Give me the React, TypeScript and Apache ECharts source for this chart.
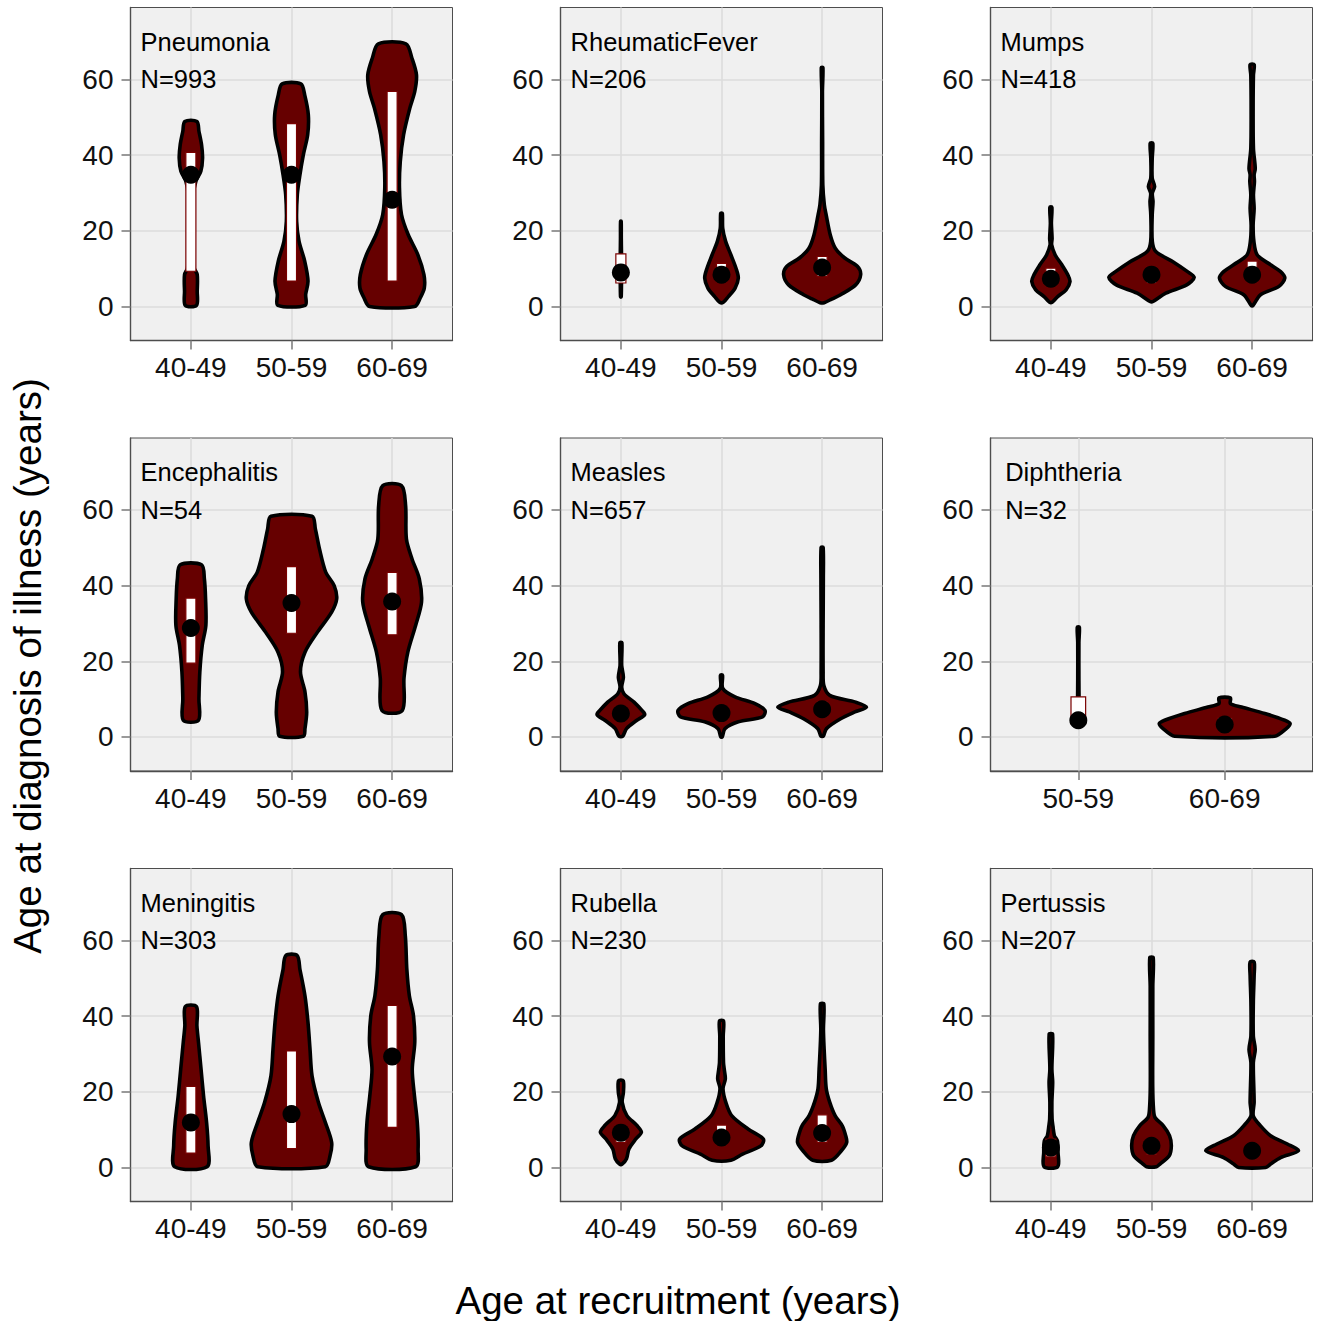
import React, { useEffect, useRef } from 'react';
import * as echarts from 'echarts';

const FONT = '"Liberation Sans", Arial, Helvetica, sans-serif';

// ---------- categories / labels ----------
const AGE_GROUPS = ['40-49', '50-59', '60-69'];
const DIPH_GROUPS = ['50-59', '60-69'];
const Y_TICKS = [0, 20, 40, 60];
const Y_MIN = -9;
const Y_MAX = 79;
const DISEASES = ['Pneumonia', 'RheumaticFever', 'Mumps', 'Encephalitis', 'Measles', 'Diphtheria', 'Meningitis', 'Rubella', 'Pertussis'];
const COUNTS = [993, 206, 418, 54, 657, 32, 303, 230, 207];
const LABEL_X = 0.5;
const NAME_Y = 70;
const COUNT_Y = 60;
const X_TITLE = 'Age at recruitment (years)';
const Y_TITLE = 'Age at diagnosis of illness (years)';

// ---------- violin profiles: [age at diagnosis, half width (x units)] ----------
const pneu40 = [[0.3, 0.056], [4.0, 0.063], [8.4, 0.063], [10.2, 0.033], [17.2, 0.023], [29.6, 0.027], [33.1, 0.05], [35.7, 0.099], [39.2, 0.116], [42.7, 0.106], [46.3, 0.08], [48.9, 0.06]];
const pneu50 = [[0.3, 0.136], [3.2, 0.141], [6.7, 0.164], [12.0, 0.131], [17.2, 0.075], [22.5, 0.051], [29.6, 0.058], [34.8, 0.084], [40.1, 0.118], [45.4, 0.161], [50.7, 0.167], [55.9, 0.131], [58.8, 0.093]];
const pneu60 = [[0.0, 0.224], [2.3, 0.28], [4.9, 0.32], [8.4, 0.316], [13.7, 0.255], [19.0, 0.159], [24.3, 0.093], [31.3, 0.073], [38.3, 0.081], [45.4, 0.114], [52.4, 0.176], [56.8, 0.225], [61.2, 0.242], [65.6, 0.197], [69.4, 0.137]];

const rf40 = [[2.5, 0.003], [6, 0.006], [10, 0.01], [14, 0.006], [18, 0.004], [22.5, 0.003]];
const rf50 = [[1.1, 0.018], [2.6, 0.068], [4.8, 0.134], [7.5, 0.167], [10.1, 0.144], [13.6, 0.094], [17.2, 0.041], [20.7, 0.012], [24.6, 0.008]];
const rf60 = [[1.0, 0.02], [2.0, 0.1], [3.1, 0.184], [5.7, 0.333], [8.4, 0.383], [10.6, 0.35], [12.8, 0.225], [15.4, 0.131], [18.9, 0.081], [24.2, 0.04], [26.8, 0.022], [32.1, 0.007], [43.5, 0.005], [56.7, 0.003], [63.1, 0.008]];

const mu40 = [[1.1, 0.012], [2.6, 0.068], [4.4, 0.151], [6.6, 0.19], [8.4, 0.167], [11.0, 0.109], [13.6, 0.043], [16.3, 0.008], [18.0, 0.012], [22, 0.005], [26.2, 0.01]];
const mu50 = [[1.3, 0.015], [3.5, 0.142], [5.7, 0.35], [7.7, 0.424], [9.2, 0.358], [11.9, 0.209], [14.5, 0.043], [17.2, 0.008], [24.2, 0.007], [27.7, 0.015], [29.9, 0.008], [31.7, 0.031], [33.9, 0.007], [39.1, 0.007], [43.1, 0.013]];
const mu60 = [[0.2, 0.008], [3.1, 0.084], [5.3, 0.267], [7.5, 0.325], [9.2, 0.283], [11.0, 0.184], [13.6, 0.051], [17.1, 0.018], [21.5, 0.01], [25.9, 0.02], [29.5, 0.013], [33.0, 0.023], [34.8, 0.02], [36.5, 0.031], [41.8, 0.013], [52.4, 0.01], [61.1, 0.013], [63.9, 0.02]];

const en40 = [[4.4, 0.076], [10.1, 0.08], [17.2, 0.089], [24.2, 0.113], [29.5, 0.149], [36.5, 0.146], [41.8, 0.134], [45.5, 0.106]];
const en50 = [[0.2, 0.118], [2.2, 0.134], [6.6, 0.151], [11.9, 0.134], [17.2, 0.089], [22.4, 0.134], [27.7, 0.258], [33.0, 0.399], [36.5, 0.449], [40.0, 0.424], [43.5, 0.341], [49.7, 0.278], [55.0, 0.237], [58.3, 0.204]];
const en60 = [[7.0, 0.101], [15.6, 0.118], [22.4, 0.156], [29.5, 0.234], [35.6, 0.292], [41.8, 0.27], [47.1, 0.197], [52.3, 0.142], [61.1, 0.134], [66.4, 0.093]];

const me40 = [[0.2, 0.018], [2.2, 0.056], [4.4, 0.159], [5.9, 0.237], [7.0, 0.209], [9.2, 0.131], [11.4, 0.031], [13.2, 0.008], [15.8, 0.025], [18.9, 0.008], [24.9, 0.01]];
const me50 = [[0, 0.007], [2.2, 0.035], [4.0, 0.167], [5.3, 0.408], [7.0, 0.432], [8.8, 0.333], [10.6, 0.134], [12.8, 0.013], [16.3, 0.01]];
const me60 = [[0.2, 0.012], [2.2, 0.043], [4.8, 0.184], [6.6, 0.325], [7.9, 0.441], [9.2, 0.333], [11.0, 0.076], [13.6, 0.017], [17.2, 0.01], [30.3, 0.01], [41.8, 0.012], [50.1, 0.01]];

const di50 = [[3.0, 0.005], [5, 0.006], [10, 0.005], [15, 0.004], [25, 0.004], [29.0, 0.007]];
const di60 = [[0.2, 0.342], [2.2, 0.421], [3.5, 0.447], [4.4, 0.41], [6.2, 0.274], [7.9, 0.115], [8.8, 0.039], [10.3, 0.039]];

const mn40 = [[0.2, 0.161], [5.7, 0.171], [11.9, 0.156], [18.9, 0.126], [26.0, 0.101], [33.0, 0.076], [37.4, 0.06], [42.5, 0.056]];
const mn50 = [[0.2, 0.336], [3.1, 0.383], [6.6, 0.399], [11.9, 0.336], [17.2, 0.267], [24.2, 0.204], [31.2, 0.184], [38.3, 0.164], [45.3, 0.134], [52.3, 0.084], [56.0, 0.056]];
const mn60 = [[0.2, 0.234], [4.8, 0.258], [11.9, 0.25], [18.9, 0.222], [25.9, 0.2], [33.1, 0.225], [40.1, 0.212], [45.4, 0.171], [52.4, 0.146], [61.2, 0.131], [66.8, 0.093]];

const ru40 = [[0.9, 0.013], [2.3, 0.056], [4.9, 0.08], [7.6, 0.151], [9.3, 0.204], [11.1, 0.159], [13.7, 0.06], [17.2, 0.013], [19.8, 0.025], [22.9, 0.023]];
const ru50 = [[1.9, 0.093], [3.5, 0.209], [5.7, 0.391], [7.5, 0.416], [10.1, 0.267], [13.7, 0.101], [17.2, 0.043], [20.8, 0.015], [23.4, 0.038], [26.0, 0.027], [27.7, 0.02], [34.7, 0.017], [38.7, 0.02]];
const ru60 = [[1.9, 0.093], [4.4, 0.191], [6.6, 0.244], [8.4, 0.234], [11.0, 0.2], [13.7, 0.129], [17.2, 0.076], [20.8, 0.041], [26.0, 0.03], [31.2, 0.02], [36.5, 0.013], [43.2, 0.017]];

const pe40 = [[0.2, 0.068], [4.0, 0.071], [7.0, 0.065], [8.4, 0.035], [11.0, 0.02], [12.8, 0.012], [17.2, 0.01], [22.5, 0.018], [26.0, 0.01], [35.2, 0.017]];
const pe50 = [[0.2, 0.051], [0.9, 0.084], [3.1, 0.176], [5.7, 0.197], [8.4, 0.179], [11.0, 0.118], [13.2, 0.035], [15.4, 0.02], [21.5, 0.012], [34.7, 0.013], [47.9, 0.013], [55.4, 0.017]];
const pe60 = [[0, 0.134], [0.9, 0.184], [2.6, 0.283], [4.4, 0.46], [6.2, 0.35], [8.4, 0.184], [11.0, 0.084], [13.6, 0.012], [17.2, 0.02], [27.7, 0.012], [31.2, 0.031], [34.7, 0.012], [43.6, 0.012], [50.7, 0.02], [54.3, 0.02]];

// ---------- boxes: [q1, median, q3] ----------
const pneumoniaBox = [[9.3, 34.8, 40.7], [6.7, 34.8, 48.3], [6.7, 28.2, 56.8]];
const rheumaticBox = [[6.2, 9.0, 13.9], [6.5, 8.4, 11.4], [7.9, 10.3, 13.2]];
const mumpsBox = [[5.5, 7.3, 10.1], [6.2, 8.4, 10.4], [6.5, 8.4, 12.0]];
const encephalitisBox = [[19.5, 28.8, 36.7], [27.4, 35.4, 45.0], [27.0, 35.8, 43.5]];
const measlesBox = [[4.5, 6.2, 8.0], [4.8, 6.3, 8.2], [5.5, 7.3, 9.3]];
const diphtheriaBox = [[3.5, 4.4, 10.6], [2.0, 3.3, 5.0]];
const meningitisBox = [[3.8, 11.9, 21.4], [5.0, 14.1, 30.8], [10.6, 29.3, 42.8]];
const rubellaBox = [[6.6, 9.2, 11.0], [6.0, 7.9, 11.2], [6.6, 9.1, 13.9]];
const pertussisBox = [[2.8, 5.3, 7.5], [3.5, 5.7, 7.5], [3.0, 4.4, 6.0]];

const PANEL_VIOLINS = [
  [pneu40, pneu50, pneu60], [rf40, rf50, rf60], [mu40, mu50, mu60],
  [en40, en50, en60], [me40, me50, me60], [di50, di60],
  [mn40, mn50, mn60], [ru40, ru50, ru60], [pe40, pe50, pe60],
];
const PANEL_BOXES = [pneumoniaBox, rheumaticBox, mumpsBox, encephalitisBox, measlesBox, diphtheriaBox, meningitisBox, rubellaBox, pertussisBox];
const PANEL_GROUPS = [AGE_GROUPS, AGE_GROUPS, AGE_GROUPS, AGE_GROUPS, AGE_GROUPS, DIPH_GROUPS, AGE_GROUPS, AGE_GROUPS, AGE_GROUPS];

// ---------- layout ----------
const GRID_LEFTS = [130.5, 560.5, 990.5];
const GRID_TOPS = [7.5, 438, 868.5];
const GRID_W = 322;
const GRID_H = 333;
const BOX_HALF = 0.05;

function buildOption() {
  const grid: any[] = [];
  const xAxis: any[] = [];
  const yAxis: any[] = [];
  const series: any[] = [];

  PANEL_VIOLINS.forEach((violins, i) => {
    const row = Math.floor(i / 3);
    const col = i % 3;
    const groups = PANEL_GROUPS[i];
    const positions = groups.map((_, j) => j + 1);
    const boxes = PANEL_BOXES[i];

    grid.push({
      left: GRID_LEFTS[col], top: GRID_TOPS[row], width: GRID_W, height: GRID_H,
      show: true, backgroundColor: '#f0f0f0', borderColor: '#4d4d4d', borderWidth: 1,
      containLabel: false,
    });
    xAxis.push({
      gridIndex: i, type: 'value', min: 0.4, max: groups.length + 0.6,
      axisLine: { show: true, onZero: false, lineStyle: { color: '#4d4d4d', width: 1.4 } },
      axisTick: { show: true, length: 9, customValues: positions, lineStyle: { color: '#808080', width: 1.6 } },
      axisLabel: {
        customValues: positions, margin: 13, fontSize: 28, fontFamily: FONT, color: '#111111',
        formatter: (v: number) => groups[Math.round(v) - 1] || '',
      },
      splitLine: { show: true, lineStyle: { color: '#dcdcdc', width: 1.6 } },
    });
    yAxis.push({
      gridIndex: i, type: 'value', min: Y_MIN, max: Y_MAX,
      axisLine: { show: true, onZero: false, lineStyle: { color: '#4d4d4d', width: 1.4 } },
      axisTick: { show: true, length: 9, customValues: Y_TICKS, lineStyle: { color: '#808080', width: 1.6 } },
      axisLabel: { customValues: Y_TICKS, margin: 17, fontSize: 28, fontFamily: FONT, color: '#111111' },
      splitLine: { show: true, lineStyle: { color: '#dcdcdc', width: 1.6 } },
    });

    series.push({
      type: 'custom', xAxisIndex: i, yAxisIndex: i,
      data: violins.map((v, j) => [positions[j], v[v.length - 1][0]]),
      encode: { x: 0, y: 1 },
      renderItem: (params: any, api: any) => {
        const j = params.dataIndex;
        const xc = positions[j];
        const prof = violins[j];
        const right = prof.map(([y, w]) => api.coord([xc + w, y]));
        const left = prof.slice().reverse().map(([y, w]) => api.coord([xc - w, y]));
        const [q1, med, q3] = boxes[j];
        const a = api.coord([xc - BOX_HALF, q3]);
        const b = api.coord([xc + BOX_HALF, q1]);
        const c = api.coord([xc, med]);
        return {
          type: 'group',
          children: [
            {
              type: 'polygon',
              shape: { points: right.concat(left), smooth: 0.3 },
              style: { fill: '#660000', stroke: '#000000', lineWidth: 3.6, lineJoin: 'round' },
            },
            {
              type: 'rect',
              shape: { x: a[0], y: a[1], width: b[0] - a[0], height: b[1] - a[1] },
              style: { fill: '#ffffff', stroke: '#7a0000', lineWidth: 1.2 },
            },
            { type: 'circle', shape: { cx: c[0], cy: c[1], r: 9 }, style: { fill: '#000000' } },
          ],
        };
      },
    });

    series.push({
      type: 'custom', xAxisIndex: i, yAxisIndex: i,
      data: [[LABEL_X, NAME_Y]],
      encode: { x: 0, y: 1 },
      renderItem: (params: any, api: any) => {
        const p1 = api.coord([LABEL_X, NAME_Y]);
        const p2 = api.coord([LABEL_X, COUNT_Y]);
        const st = { fontSize: 25.5, fontFamily: FONT, fill: '#000000', align: 'left', verticalAlign: 'middle' };
        return {
          type: 'group',
          children: [
            { type: 'text', x: p1[0], y: p1[1], style: { ...st, text: DISEASES[i] } },
            { type: 'text', x: p2[0], y: p2[1], style: { ...st, text: 'N=' + COUNTS[i] } },
          ],
        };
      },
    });
  });

  return {
    animation: false,
    backgroundColor: '#ffffff',
    grid, xAxis, yAxis, series,
    graphic: [
      {
        type: 'text', x: 678, y: 1300,
        style: { text: X_TITLE, fontSize: 38.5, fontFamily: FONT, fill: '#000000', align: 'center', verticalAlign: 'middle' },
      },
      {
        type: 'text', x: 27, y: 666, rotation: Math.PI / 2,
        style: { text: Y_TITLE, fontSize: 38.5, fontFamily: FONT, fill: '#000000', align: 'center', verticalAlign: 'middle' },
      },
    ],
  };
}

export default function App() {
  const ref = useRef<HTMLDivElement>(null);
  useEffect(() => {
    if (!ref.current) return;
    const chart = echarts.init(ref.current, undefined, { renderer: 'svg' });
    chart.setOption(buildOption() as any);
    return () => chart.dispose();
  }, []);
  return <div ref={ref} style={{ position: 'absolute', left: 0, top: 0, width: 1323, height: 1321 }} />;
}
